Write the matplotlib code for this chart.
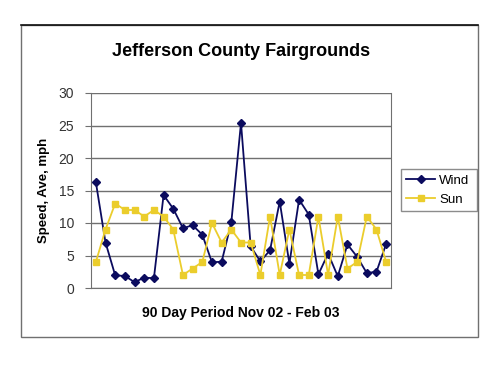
import matplotlib
matplotlib.use("Agg")
import matplotlib.pyplot as plt
from matplotlib.patches import Rectangle
from matplotlib.lines import Line2D

plt.rcParams['font.family'] = ['Liberation Sans', 'DejaVu Sans']

wind = [16.3, 7.0, 1.95, 1.85, 0.9, 1.6, 1.5, 14.3, 12.2, 9.2, 9.65, 8.2, 3.95, 4.05,
        10.1, 25.4, 6.4, 4.1, 5.8, 13.3, 3.75, 13.6, 11.3, 2.1, 5.3, 1.8, 6.7, 4.8,
        2.3, 2.5, 6.8]
sun = [4, 9, 13, 12, 12, 11, 12, 11, 9, 2, 3, 4, 10, 7, 9, 7, 7, 2, 11, 2, 9, 2, 2,
       11, 2, 11, 3, 4, 11, 9, 4]
yticks = [0, 5, 10, 15, 20, 25, 30]
title = "Jefferson County Fairgrounds"
xlabel = "90 Day Period Nov 02 - Feb 03"
ylabel = "Speed, Ave, mph"

fig = plt.figure(figsize=(5.0, 3.74), dpi=100)
fig.patches.append(Rectangle((21/500, 1-337/374), 457/500, 312/374,
                             transform=fig.transFigure, fill=False,
                             edgecolor='#707070', linewidth=1.0))
fig.lines.append(Line2D([21/500, 478/500], [1-25/374, 1-25/374],
                        transform=fig.transFigure, color='#111111', linewidth=1.2))
ax = fig.add_axes([91/500, 1-288/374, 300/500, 195/374])
x = list(range(len(wind)))
ax.plot(x, wind, color='#0b0b5e', marker='D', markersize=3.8, linewidth=1.3, label='Wind')
ax.plot(x, sun, color='#ebcd2c', marker='s', markersize=4.5, linewidth=1.3, label='Sun')
ax.set_xlim(-0.5, len(wind) - 0.5)
ax.set_ylim(0, 30)
ax.set_yticks(yticks)
ax.set_xticks([])
ax.yaxis.grid(True, color='#707070', linewidth=1.0)
ax.set_axisbelow(True)
for s in ax.spines.values():
    s.set_color('#707070')
ax.spines['top'].set_visible(False)
ax.tick_params(axis='y', length=4, color='#707070', labelsize=10, pad=8, labelcolor='#333333')
ax.set_title(title, fontsize=13, fontweight='bold', pad=27)
ax.set_xlabel(xlabel, fontsize=10, fontweight='bold', labelpad=13)
ax.set_ylabel(ylabel, fontsize=9.5, fontweight='bold', labelpad=6)
leg = ax.legend(loc='center left', bbox_to_anchor=(401/500, 1-212/374, 76/500, 44/374),
                bbox_transform=fig.transFigure, frameon=True, fancybox=False,
                fontsize=9.5, handlelength=2.2, borderpad=0.4, labelspacing=0.5,
                handletextpad=0.3, mode='expand', borderaxespad=0)
leg.get_frame().set_edgecolor('#707070')
leg.get_frame().set_linewidth(1.0)
fig.savefig('out.png', dpi=100)
